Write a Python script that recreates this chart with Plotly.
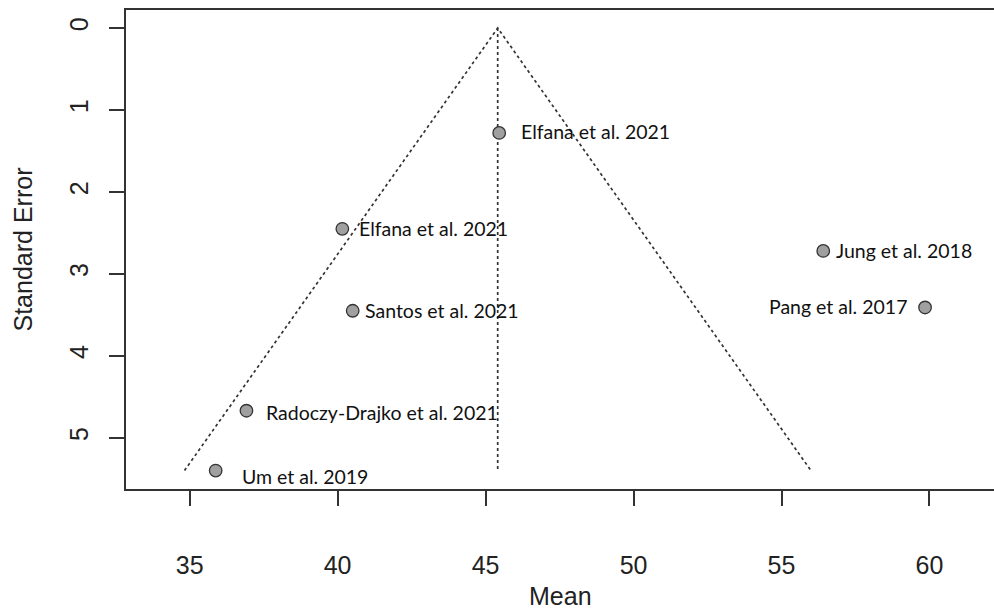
import plotly.graph_objects as go

# Study estimates (mean) and their standard errors
studies = [
    "Elfana et al. 2021",
    "Elfana et al. 2021",
    "Santos et al. 2021",
    "Radoczy-Drajko et al. 2021",
    "Um et al. 2019",
    "Jung et al. 2018",
    "Pang et al. 2017",
]
means = [45.46, 40.16, 40.51, 36.92, 35.88, 56.41, 59.85]
std_errors = [1.28, 2.45, 3.45, 4.67, 5.40, 2.72, 3.41]

# Pooled estimate used as the funnel centre
pooled = 45.41
z = 1.96
se_max = max(std_errors)

# Label placement relative to each point (pixels)
label_side = ["left", "left", "left", "left", "left", "left", "right"]
label_dx = [20, 15, 10, 18, 24, 11, -16]
label_dy = [1, 0, 0, -2, -6, 0, 1]

x_ticks = [35, 40, 45, 50, 55, 60]
y_ticks = [0, 1, 2, 3, 4, 5]

fig = go.Figure()

line_style = dict(color="#333333", width=1.7, dash="dot")

# Funnel (pseudo confidence region) and centre line
fig.add_trace(go.Scatter(
    x=[pooled - z * se_max, pooled, pooled + z * se_max],
    y=[se_max, 0, se_max],
    mode="lines", line=line_style, hoverinfo="skip", showlegend=False,
))
fig.add_trace(go.Scatter(
    x=[pooled, pooled], y=[0, se_max],
    mode="lines", line=line_style, hoverinfo="skip", showlegend=False,
))

# Study points
fig.add_trace(go.Scatter(
    x=means, y=std_errors, mode="markers",
    marker=dict(size=12.5, color="#a0a0a0", line=dict(color="#333333", width=1.3)),
    text=studies, hovertemplate="%{text}<br>Mean %{x}<br>SE %{y}<extra></extra>",
    showlegend=False,
))

for name, mx, se, side, dx, dy in zip(studies, means, std_errors, label_side, label_dx, label_dy):
    fig.add_annotation(
        x=mx, y=se, xref="x", yref="y", text=name, showarrow=False,
        xanchor=side, yanchor="middle", xshift=dx, yshift=dy,
        font=dict(family="Lato, Open Sans, sans-serif", size=19.5, color="#111111"),
    )

axis_font = dict(family="Liberation Sans, Arial, sans-serif", size=25, color="#222222")

fig.update_xaxes(
    range=[32.85, 62.18], tickvals=x_ticks, ticks="outside", ticklen=15,
    tickwidth=1.5, tickcolor="#333333", showline=True, linecolor="#333333",
    linewidth=1.8, mirror=True, showgrid=False, zeroline=False,
    tickfont=axis_font, ticklabelstandoff=38,
)
fig.update_yaxes(
    range=[5.625, -0.22], tickvals=y_ticks, ticks="outside", ticklen=15,
    tickwidth=1.5, tickcolor="#333333", showline=True, linecolor="#333333",
    linewidth=1.8, mirror=False, showgrid=False, zeroline=False,
    tickfont=axis_font, tickangle=-90, ticklabelstandoff=11,
)

# Axis titles
fig.add_annotation(
    text="Mean", xref="paper", yref="paper", x=0.5, y=0, yshift=-107,
    xanchor="center", yanchor="middle", showarrow=False, font=axis_font,
)
fig.add_annotation(
    text="Standard Error", xref="paper", yref="paper", x=0, y=0.5, xshift=-104,
    xanchor="center", yanchor="middle", showarrow=False, textangle=-90, font=axis_font,
)

fig.update_layout(
    width=994, height=612,
    margin=dict(l=126, r=0, t=10, b=123),
    plot_bgcolor="white", paper_bgcolor="white",
)

fig.write_html("out.html")
